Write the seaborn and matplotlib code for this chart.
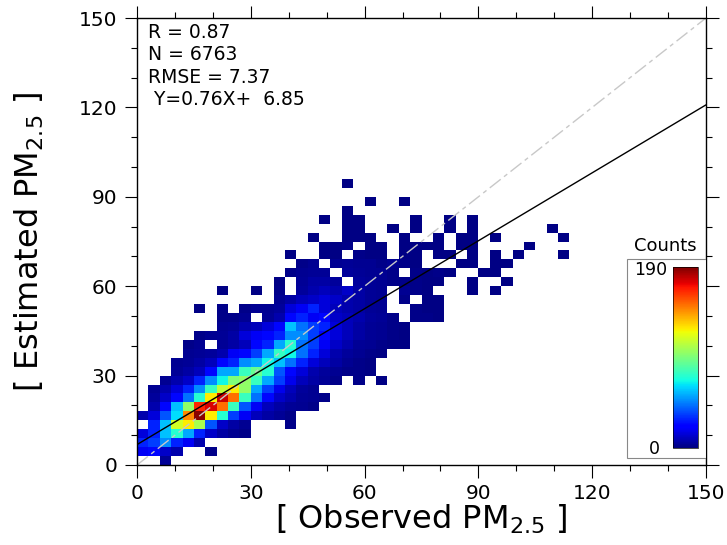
import numpy as np
import pandas as pd
import seaborn as sns
import matplotlib
import matplotlib.pyplot as plt
from matplotlib.patches import Rectangle
from matplotlib.ticker import MultipleLocator

# --- data: 2D histogram counts (bin width 3) ---
# one entry per y bin (0-3, 3-6, ...); counts start at x bin row_start[j]
bin_width = 3
row_start = [2, 0, 0, 0, 1, 0, 1, 1, 1, 2, 3, 3, 4, 4, 5, 7,
             7, 5, 12, 7, 12, 13, 14, 13, 16, 15, 18, 16, 18, 20, 0, 18]
row_counts = [
    [4],
    [20, 25, 12, 8, 0, 0, 2],
    [30, 35, 50, 30, 20, 8],
    [15, 30, 60, 75, 55, 30, 12, 6, 3, 2],
    [30, 60, 115, 125, 105, 40, 12, 6, 3, 0, 0, 0, 2],
    [8, 15, 40, 65, 145, 188, 125, 75, 35, 20, 10, 6, 4, 2],
    [8, 25, 60, 100, 165, 175, 150, 80, 40, 20, 10, 6, 4, 3, 2],
    [5, 12, 25, 45, 75, 125, 178, 150, 80, 45, 25, 12, 8, 4, 3, 2],
    [3, 8, 15, 30, 50, 80, 110, 125, 100, 55, 35, 18, 10, 5, 3],
    [3, 8, 12, 30, 50, 70, 95, 100, 80, 55, 35, 18, 10, 6, 4, 2, 0, 2, 0, 1],
    [4, 6, 10, 25, 55, 55, 80, 90, 75, 40, 25, 15, 8, 5, 3, 2, 2, 1],
    [3, 4, 6, 10, 25, 30, 50, 55, 70, 60, 45, 30, 15, 10, 6, 3, 2, 1],
    [3, 4, 5, 8, 20, 25, 35, 55, 78, 70, 45, 30, 15, 8, 5, 3, 2, 1],
    [2, 3, 0, 4, 6, 10, 25, 30, 55, 75, 45, 35, 20, 12, 8, 4, 3, 2, 1, 1],
    [2, 3, 4, 6, 15, 20, 25, 30, 50, 50, 35, 25, 15, 10, 6, 4, 3, 2, 1],
    [3, 4, 8, 10, 15, 25, 60, 45, 35, 30, 15, 10, 6, 4, 3, 2, 1],
    [2, 2, 3, 0, 4, 8, 25, 30, 20, 25, 12, 10, 8, 5, 4, 2, 0, 2, 2, 1],
    [1, 0, 2, 0, 2, 3, 3, 5, 15, 20, 30, 15, 10, 8, 6, 4, 3, 0, 0, 2, 1, 1],
    [3, 6, 10, 12, 15, 12, 8, 6, 4, 3, 0, 2, 0, 1, 1],
    [1, 0, 0, 1, 0, 2, 0, 5, 8, 10, 8, 12, 6, 4, 3, 0, 3, 2, 1, 0, 0, 0, 1, 0, 1],
    [1, 0, 4, 6, 6, 5, 0, 5, 4, 3, 2, 2, 2, 1, 1, 0, 0, 1, 0, 0, 1],
    [2, 3, 4, 4, 0, 5, 4, 3, 3, 2, 0, 2, 1, 2, 1, 0, 0, 1, 1],
    [2, 3, 0, 3, 4, 3, 3, 2, 3, 2, 1, 0, 0, 0, 1, 1, 0, 1, 1],
    [1, 0, 0, 1, 1, 0, 2, 1, 1, 0, 1, 1, 0, 1, 1, 0, 1, 0, 1, 0, 1, 0, 0, 0, 1],
    [1, 1, 2, 0, 1, 1, 0, 1, 1, 1, 1, 0, 1, 1, 0, 0, 0, 0, 1],
    [1, 0, 0, 1, 1, 1, 0, 0, 1, 0, 0, 1, 0, 1, 1, 0, 1, 0, 0, 0, 0, 0, 1],
    [1, 1, 0, 0, 1, 0, 1, 0, 0, 1, 0, 1, 0, 0, 0, 0, 0, 0, 1],
    [1, 0, 1, 1, 0, 0, 0, 0, 1, 0, 0, 1, 0, 1],
    [1],
    [1, 0, 0, 1],
    [],
    [1],
]
stats_text = ["R = 0.87", "N = 6763", "RMSE = 7.37", " Y=0.76X+  6.85"]
fit_slope = 0.76
fit_intercept = 6.85
axis_ticks = [0, 30, 60, 90, 120, 150]
cbar_max = 190

# cell centres + weights for seaborn
xs, ys, ws = [], [], []
for j, (s, counts) in enumerate(zip(row_start, row_counts)):
    for k, c in enumerate(counts):
        if c > 0:
            xs.append((s + k + 0.5) * bin_width)
            ys.append((j + 0.5) * bin_width)
            ws.append(c)
df = pd.DataFrame({"obs": xs, "est": ys, "n": ws})

# --- style ---
sns.set_style("ticks")
plt.rcParams['font.family'] = ['DejaVu Sans']
plt.rcParams['axes.edgecolor'] = 'black'
plt.rcParams['axes.linewidth'] = 1.0
plt.rcParams['xtick.color'] = 'black'
plt.rcParams['ytick.color'] = 'black'
plt.rcParams['text.color'] = 'black'
plt.rcParams['axes.labelcolor'] = 'black'

fig = plt.figure(figsize=(7.27, 5.45), dpi=100)
ax = fig.add_axes([137 / 727, 1 - 465 / 545, 569 / 727, 447 / 545])

jet = matplotlib.colormaps["jet"]
sns.histplot(df, x="obs", y="est", weights="n", binwidth=bin_width,
             binrange=(0, 150), cmap=jet, vmin=0, vmax=cbar_max, ax=ax)
mesh = ax.collections[0]

# 1:1 line and fitted line
line_x = np.array([0, 150])
ax.plot(line_x, line_x, color='#c8c8c8', lw=1, dashes=[10, 3, 3, 3])
ax.plot(line_x, fit_slope * line_x + fit_intercept, color='black', lw=1)

ax.set_xlim(0, 150)
ax.set_ylim(0, 150)
ax.set_xticks(axis_ticks)
ax.set_yticks(axis_ticks)
ax.xaxis.set_minor_locator(MultipleLocator(10))
ax.yaxis.set_minor_locator(MultipleLocator(10))
ax.tick_params(which='both', direction='out', top=True, right=True,
               width=0.8, labelsize=14.5)
ax.tick_params(which='major', length=9, pad=5)
ax.tick_params(which='minor', length=4.5)

ax.set_xlabel("[ Observed PM$_{2.5}$ ]", fontsize=23)
ax.set_ylabel("[ Estimated PM$_{2.5}$ ]", fontsize=23)
ax.xaxis.set_label_coords(0.5, -0.085)
ax.yaxis.set_label_coords(-0.16, 0.5)

# stats text
for i, t in enumerate(stats_text):
    ax.text(2.9, 145.3 - i * 7.6, t, fontsize=13.5, va='center', ha='left')

# colorbar inside a boxed panel
ax.add_patch(Rectangle((0.861, 0.0157), 0.139, 0.445, transform=ax.transAxes,
                       facecolor='white', edgecolor='#888888', lw=0.8, zorder=4))
cax = ax.inset_axes([0.942, 0.038, 0.044, 0.405])
cb = fig.colorbar(mesh, cax=cax)
cb.set_ticks([])
cb.outline.set_linewidth(0.5)
ax.text(0.902, 0.436, str(cbar_max), transform=ax.transAxes, fontsize=12.5,
        ha='center', va='center', zorder=6)
ax.text(0.910, 0.036, "0", transform=ax.transAxes, fontsize=12.5,
        ha='center', va='center', zorder=6)
ax.text(0.928, 0.49, "Counts", transform=ax.transAxes, fontsize=13,
        ha='center', va='center', zorder=6)

fig.savefig("out.png", dpi=100)
